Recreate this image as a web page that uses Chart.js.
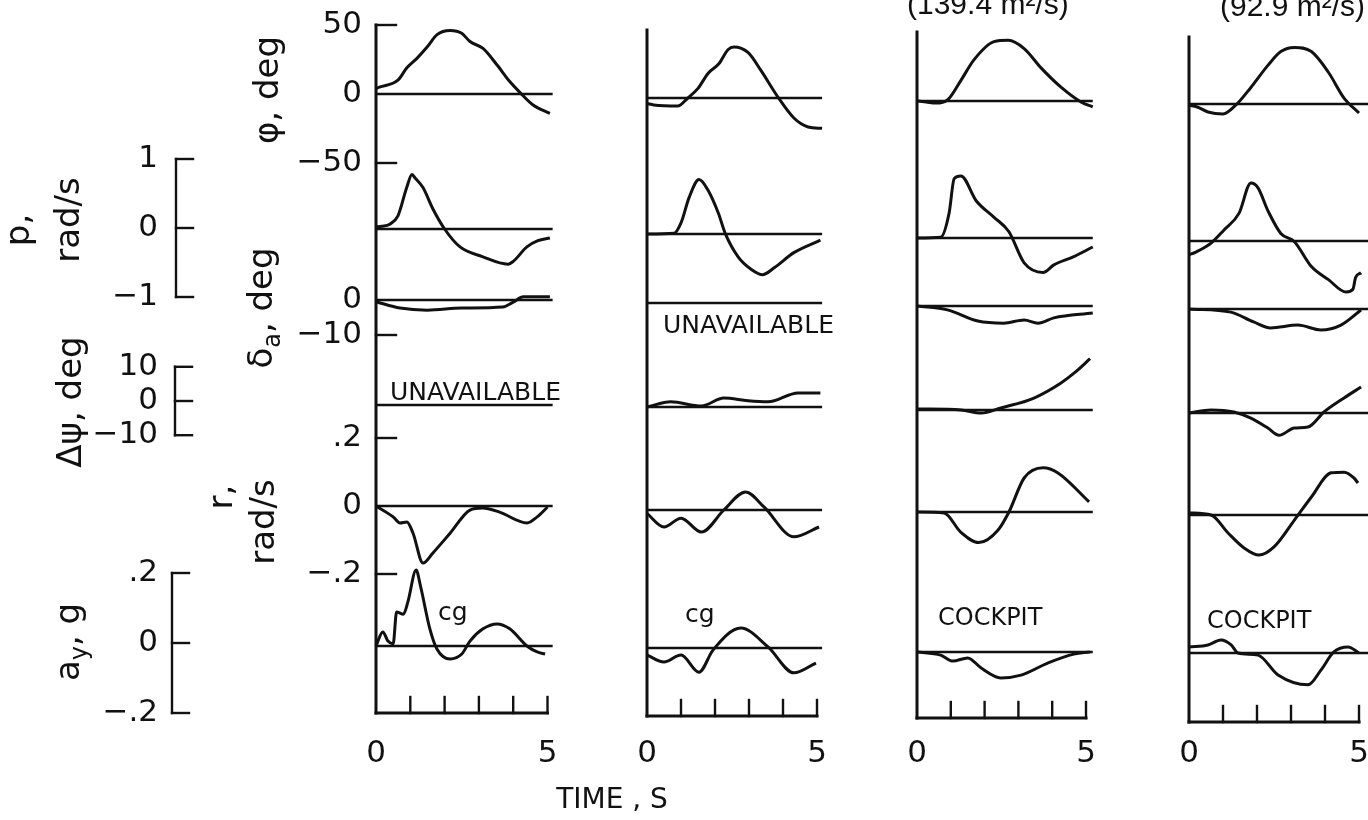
<!DOCTYPE html>
<html><head><meta charset="utf-8">
<script src="https://cdn.jsdelivr.net/npm/chart.js@4"></script>
<style>
html,body{margin:0;padding:0;background:#fff;}
#wrap{position:relative;width:1368px;height:820px;overflow:hidden;background:#fff;}
#wrap canvas{position:absolute;left:0;top:0;}
</style></head>
<body><div id="wrap">
<canvas id="c0" width="1368" height="820"></canvas>
<canvas id="c1" width="1368" height="820"></canvas>
<canvas id="c2" width="1368" height="820"></canvas>
<canvas id="c3" width="1368" height="820"></canvas>
</div>
<script>
// ---------- DATA (time in s, values in physical units) ----------
const timeTicks = [0, 1, 2, 3, 4, 5];
const timeTickLabels = ['0', '', '', '', '', '5'];
const phiTicks = [50, 0, -50];       const phiTickLabels = ['50', '0', '\u221250'];
const daTicks = [0, -10];            const daTickLabels = ['0', '\u221210'];
const rTicks = [0.2, 0, -0.2];       const rTickLabels = ['.2', '0', '\u2212.2'];
const pTicks = [1, 0, -1];           const pTickLabels = ['1', '0', '\u22121'];
const dpsiTicks = [10, 0, -10];      const dpsiTickLabels = ['10', '0', '\u221210'];
const ayTicks = [0.2, 0, -0.2];      const ayTickLabels = ['.2', '0', '\u2212.2'];

// Column 1
const phi1_t = [0, 0.1, 0.64, 0.9, 1.2, 1.49, 1.78, 2.16, 2.5, 2.74, 3.12, 3.53, 3.9, 4.2, 4.58, 5.07];
const phi1_v = [4, 5, 10, 19, 26, 34, 43, 46, 44, 38, 33, 21, 9, 1, -8, -14];
const p1_t = [0, 0.17, 0.4, 0.64, 0.9, 1.05, 1.14, 1.37, 1.66, 2.0, 2.45, 3.1, 3.85, 4.0, 4.4, 4.72, 5.07];
const p1_v = [0.03, 0.04, 0.07, 0.19, 0.61, 0.79, 0.74, 0.6, 0.29, 0, -0.26, -0.4, -0.51, -0.47, -0.26, -0.17, -0.13];
const da1_t = [0, 0.7, 1.5, 2.5, 3.7, 4.0, 4.3, 5.07];
const da1_v = [-0.5, -2.3, -2.9, -2.3, -2.0, -0.6, 0.9, 0.9];
const r1_t = [0, 0.5, 0.7, 0.9, 1.08, 1.37, 1.66, 2.16, 2.74, 3.1, 3.6, 4.4, 4.7, 5.0];
const r1_v = [0, -0.032, -0.05, -0.047, -0.08, -0.168, -0.138, -0.08, -0.012, -0.006, -0.018, -0.05, -0.032, -0.003];
const ay1_t = [0, 0.2, 0.35, 0.5, 0.6, 0.8, 0.93, 1.17, 1.3, 1.57, 1.78, 2.16, 2.5, 2.74, 3.12, 3.53, 3.9, 4.4, 4.7, 4.93];
const ay1_v = [0, 0.04, 0.014, 0.006, 0.097, 0.091, 0.126, 0.217, 0.17, 0.049, -0.009, -0.037, -0.023, 0.014, 0.049, 0.063, 0.049, 0, -0.017, -0.023];

// Column 2
const phi2_t = [0, 0.2, 0.9, 1.2, 1.5, 1.8, 2.12, 2.38, 2.56, 2.97, 3.35, 3.85, 4.32, 4.74, 5.15];
const phi2_v = [-4, -5, -5.8, 0, 7, 18, 25, 35, 37, 33, 20, 0.7, -14.5, -21, -22];
const p2_t = [0, 0.8, 1.0, 1.24, 1.53, 1.8, 2.1, 2.3, 2.68, 3.06, 3.4, 3.74, 4.32, 5.1];
const p2_v = [0, 0.01, 0.16, 0.53, 0.79, 0.63, 0.3, 0.01, -0.33, -0.51, -0.59, -0.49, -0.27, -0.09];
const dpsi2_t = [0, 0.7, 1.6, 2.26, 2.97, 3.56, 4.44, 5.1];
const dpsi2_v = [0, 1.5, 0.3, 2.6, 1.8, 1.5, 4.1, 4.1];
const r2_t = [0, 0.5, 1.0, 1.6, 2.26, 2.9, 3.44, 4.32, 5.06];
const r2_v = [-0.01, -0.05, -0.024, -0.065, 0, 0.053, 0.009, -0.079, -0.05];
const ay2_t = [0, 0.5, 1.0, 1.53, 1.94, 2.76, 3.56, 4.32, 4.97];
const ay2_v = [-0.02, -0.04, -0.02, -0.069, -0.006, 0.057, 0.003, -0.071, -0.043];

// Column 3
const phi3_t = [0, 0.27, 0.56, 0.9, 1.3, 1.69, 2.28, 2.7, 3.17, 3.67, 4.26, 4.85, 5.2];
const phi3_v = [0, -0.7, -1.5, 0.7, 15, 30, 43, 44, 38, 24, 10, -0.7, -4.3];
const p3_t = [0, 0.7, 0.95, 1.1, 1.3, 1.75, 2.28, 2.72, 3.17, 3.73, 4.05, 4.64, 5.2];
const p3_v = [0, 0.01, 0.36, 0.86, 0.9, 0.54, 0.3, 0.09, -0.36, -0.5, -0.39, -0.27, -0.13];
const da3_t = [0, 0.9, 1.8, 2.57, 3.17, 3.58, 4.05, 5.2];
const da3_v = [0, -1.1, -4.3, -4.9, -4.0, -4.9, -3.4, -2.0];
const dpsi3_t = [0, 1.3, 1.9, 2.48, 3.46, 4.26, 4.7, 5.12];
const dpsi3_v = [0.3, 0, -0.9, 0.6, 3.5, 7.9, 11.2, 15];
const r3_t = [0, 0.8, 1.3, 1.83, 2.4, 2.72, 3.17, 3.73, 4.17, 5.09];
const r3_v = [0, -0.003, -0.06, -0.09, -0.053, 0, 0.1, 0.13, 0.115, 0.03];
const ay3_t = [0, 0.7, 1.06, 1.5, 1.9, 2.48, 3.08, 3.88, 4.64, 5.12];
const ay3_v = [0, -0.009, -0.026, -0.017, -0.046, -0.074, -0.066, -0.031, -0.006, 0];

// Column 4
const phi4_t = [0, 0.24, 0.56, 1.0, 1.38, 1.82, 2.32, 2.7, 3.1, 3.6, 4.1, 4.56, 5.0];
const phi4_v = [-1, -2.2, -5.8, -7.2, -0.7, 12, 28, 38, 41, 38, 23, 4.3, -6.5];
const p4_t = [0, 0.2, 0.65, 1.03, 1.47, 1.82, 2.03, 2.32, 2.7, 3.1, 3.6, 4.1, 4.62, 4.82, 4.9, 5.06];
const p4_v = [-0.2, -0.16, -0.03, 0.16, 0.4, 0.84, 0.77, 0.44, 0.11, -0.01, -0.37, -0.56, -0.74, -0.7, -0.53, -0.46];
const da4_t = [0, 1.23, 1.9, 2.4, 3.2, 3.88, 4.47, 5.06];
const da4_v = [0, -0.9, -3.7, -5.4, -4.6, -6, -4.6, -0.3];
const dpsi4_t = [0, 0.65, 1.32, 1.82, 2.32, 2.65, 3.1, 3.5, 3.97, 4.56, 5.06];
const dpsi4_v = [0, 0.9, 0.3, -1.5, -4.4, -6.5, -4.4, -4.1, 0.3, 4.4, 7.6];
const r4_t = [0, 0.65, 1.15, 1.62, 2.06, 2.5, 3.1, 3.6, 4.18, 4.56, 4.85, 4.97];
const r4_v = [0.006, 0, -0.053, -0.097, -0.118, -0.094, -0.015, 0.053, 0.124, 0.126, 0.109, 0.094];
const ay4_t = [0, 0.56, 0.94, 1.24, 1.44, 2.03, 2.62, 3.5, 3.88, 4.26, 4.68, 5.0];
const ay4_v = [0.017, 0.023, 0.037, 0.023, 0, -0.006, -0.063, -0.091, -0.049, 0.003, 0.017, 0];

const SERIES = [
  {phi:[phi1_t,phi1_v], p:[p1_t,p1_v], da:[da1_t,da1_v], dpsi:null, r:[r1_t,r1_v], ay:[ay1_t,ay1_v]},
  {phi:[phi2_t,phi2_v], p:[p2_t,p2_v], da:null, dpsi:[dpsi2_t,dpsi2_v], r:[r2_t,r2_v], ay:[ay2_t,ay2_v]},
  {phi:[phi3_t,phi3_v], p:[p3_t,p3_v], da:[da3_t,da3_v], dpsi:[dpsi3_t,dpsi3_v], r:[r3_t,r3_v], ay:[ay3_t,ay3_v]},
  {phi:[phi4_t,phi4_v], p:[p4_t,p4_v], da:[da4_t,da4_v], dpsi:[dpsi4_t,dpsi4_v], r:[r4_t,r4_v], ay:[ay4_t,ay4_v]}
];

// ---------- LAYOUT ----------
const W = 1368, H = 820;
const INK = '#111111';
const FONT = '"DejaVu Sans", "Liberation Sans", sans-serif';
const FONT_N = '"Liberation Sans", "DejaVu Sans", sans-serif';
const VARS = ['phi','p','da','dpsi','r','ay'];
const K = {phi:1.38, p:69, da:3.5, dpsi:3.42, r:340, ay:350};   // px per unit
const COLS = [
  {x0:376, kx:34.3, top:24, bottom:713, zEnd:5.15, zero:{phi:94, p:229, da:300, dpsi:405, r:506, ay:646}},
  {x0:647, kx:34.0, top:30, bottom:716, zEnd:5.15, zero:{phi:98, p:234, da:303, dpsi:407, r:510, ay:648}},
  {x0:917, kx:33.8, top:32, bottom:718, zEnd:5.2,  zero:{phi:101, p:238, da:306, dpsi:410, r:512, ay:652}},
  {x0:1189, kx:34.0, top:37, bottom:722, zEnd:5.6, zero:{phi:104, p:241, da:309, dpsi:413, r:515, ay:653}}
];
const BRACKETS = {p:{zero:228, x:176}, dpsi:{zero:401, x:175}, ay:{zero:643, x:172}};
const NOTES = [
  [{s:'UNAVAILABLE', x:390, y:400, size:25}, {s:'cg', x:438, y:620, size:25}],
  [{s:'UNAVAILABLE', x:663, y:333, size:25}, {s:'cg', x:685, y:622, size:25}],
  [{s:'COCKPIT', x:938, y:625, size:24}, {s:'(139.4 m\u00B2/s)', x:907, y:14, size:30, font:FONT_N}],
  [{s:'COCKPIT', x:1207, y:628, size:24}, {s:'(92.9 m\u00B2/s)', x:1220, y:16, size:30, font:FONT_N}]
];

// ---------- helpers ----------
function pts(t, v){ return t.map((x,i)=>({x:x, y:v[i]})); }
function yRange(zeroPx, k){ return {min: -(H - zeroPx)/k, max: zeroPx/k}; }

function runs(ctx, parts, x, y, rot, base){
  ctx.save(); ctx.translate(x, y); if (rot) ctx.rotate(-Math.PI/2);
  ctx.textAlign = 'left'; ctx.textBaseline = 'alphabetic'; ctx.fillStyle = INK;
  let w = 0;
  parts.forEach(p => { ctx.font = p.size + 'px ' + FONT; p.w = ctx.measureText(p.s).width; w += p.w; });
  let cx = -w/2;
  parts.forEach(p => { ctx.font = p.size + 'px ' + FONT; ctx.fillText(p.s, cx, base + (p.dy||0)); cx += p.w; });
  ctx.restore();
}
function text(ctx, s, x, y, size, align, baseline, font){
  ctx.save(); ctx.fillStyle = INK; ctx.font = size + 'px ' + (font || FONT);
  ctx.textAlign = align || 'left'; ctx.textBaseline = baseline || 'alphabetic';
  ctx.fillText(s, x, y); ctx.restore();
}
function line(ctx, x1, y1, x2, y2, w){
  ctx.save(); ctx.strokeStyle = INK; ctx.lineWidth = w || 2.6; ctx.lineCap = 'square';
  ctx.beginPath(); ctx.moveTo(x1, y1); ctx.lineTo(x2, y2); ctx.stroke(); ctx.restore();
}

const framePlugin = {
  id: 'frame',
  afterDatasetsDraw(chart, args, opts){
    const c = opts.col, L = COLS[c], ctx = chart.ctx;
    const X = t => chart.scales.x.getPixelForValue(t);
    const Y = (v, val) => chart.scales['y_' + v].getPixelForValue(val);
    const ax = X(0);
    const top = c === 0 ? Y('phi', 50) : L.top;
    // vertical axis and time axis
    line(ctx, ax, top, ax, L.bottom, 3);
    line(ctx, ax, L.bottom, X(5), L.bottom, 3);
    timeTicks.forEach((t, i) => {
      if (t > 0) line(ctx, X(t), L.bottom, X(t), L.bottom - 16, 2.4);
      if (timeTickLabels[i]) text(ctx, timeTickLabels[i], X(t), 762, 31, 'center');
    });
    // notes
    NOTES[c].forEach(n => text(ctx, n.s, n.x, n.y, n.size, 'left', 'alphabetic', n.font));
    if (c !== 0) return;
    // inner ticks and labels of first column
    const inner = [['phi', phiTicks, phiTickLabels], ['da', daTicks, daTickLabels], ['r', rTicks, rTickLabels]];
    inner.forEach(([v, ticks, labs]) => {
      ticks.forEach((tv, i) => {
        const y = Y(v, tv);
        if (tv !== 0) line(ctx, ax, y, ax + 20, y, 2.4);
        text(ctx, labs[i], ax - 14, y, 31, 'right', 'middle');
      });
    });
    // left bracket axes
    const br = [['p', pTicks, pTickLabels], ['dpsi', dpsiTicks, dpsiTickLabels], ['ay', ayTicks, ayTickLabels]];
    br.forEach(([v, ticks, labs]) => {
      const B = BRACKETS[v];
      const yb = val => chart.scales['yb_' + v].getPixelForValue(val);
      line(ctx, B.x, yb(ticks[0]), B.x, yb(ticks[ticks.length-1]), 2.4);
      ticks.forEach((tv, i) => {
        line(ctx, B.x, yb(tv), B.x + 17, yb(tv), 2.4);
        text(ctx, labs[i], 158, yb(tv), 31, 'right', 'middle');
      });
    });
    // rotated axis titles
    const S = 34, b = S * 0.27;
    runs(ctx, [{s:'\u03C6, deg', size:S}], 269, 90, true, b);
    runs(ctx, [{s:'\u03B4', size:S}, {s:'a', size:24, dy:8}, {s:', deg', size:S}], 263, 308, true, b);
    runs(ctx, [{s:'r,', size:S}], 223, 497, true, b);
    runs(ctx, [{s:'rad/s', size:S}], 265, 522, true, b);
    runs(ctx, [{s:'p,', size:S}], 20, 230, true, b);
    runs(ctx, [{s:'rad/s', size:S}], 70, 220, true, b);
    runs(ctx, [{s:'\u0394\u03C8, deg', size:S}], 72, 402, true, b);
    runs(ctx, [{s:'a', size:S}, {s:'y', size:24, dy:8}, {s:', g', size:S}], 70, 642, true, b);
    // time label
    text(ctx, 'TIME , S', 612, 808, 28, 'center');
  }
};

function makeChart(c){
  const L = COLS[c];
  const scales = {
    x: {type:'linear', display:false, min: -L.x0 / L.kx, max: (W - L.x0) / L.kx}
  };
  VARS.forEach(v => {
    const rg = yRange(L.zero[v], K[v]);
    scales['y_' + v] = {type:'linear', display:false, min: rg.min, max: rg.max};
  });
  if (c === 0) {
    Object.keys(BRACKETS).forEach(v => {
      const rg = yRange(BRACKETS[v].zero, K[v]);
      scales['yb_' + v] = {type:'linear', display:false, min: rg.min, max: rg.max};
    });
  }
  const datasets = [];
  VARS.forEach(v => {
    datasets.push({
      data: [{x:0, y:0}, {x:L.zEnd, y:0}], yAxisID:'y_' + v, xAxisID:'x',
      borderColor: INK, borderWidth: 2.6, pointRadius: 0, tension: 0, fill: false, clip: false
    });
    const s = SERIES[c][v];
    if (s) datasets.push({
      data: pts(s[0], s[1]), yAxisID:'y_' + v, xAxisID:'x',
      borderColor: INK, borderWidth: 3, pointRadius: 0, cubicInterpolationMode: 'monotone',
      fill: false, clip: false
    });
  });
  return new Chart(document.getElementById('c' + c), {
    type: 'line',
    data: {datasets},
    options: {
      responsive: false, animation: false, devicePixelRatio: 1, events: [],
      layout: {padding: 0},
      scales,
      plugins: {legend:{display:false}, tooltip:{enabled:false}, frame:{col:c}}
    },
    plugins: [framePlugin]
  });
}
[0,1,2,3].forEach(makeChart);
</script>
</body></html>
